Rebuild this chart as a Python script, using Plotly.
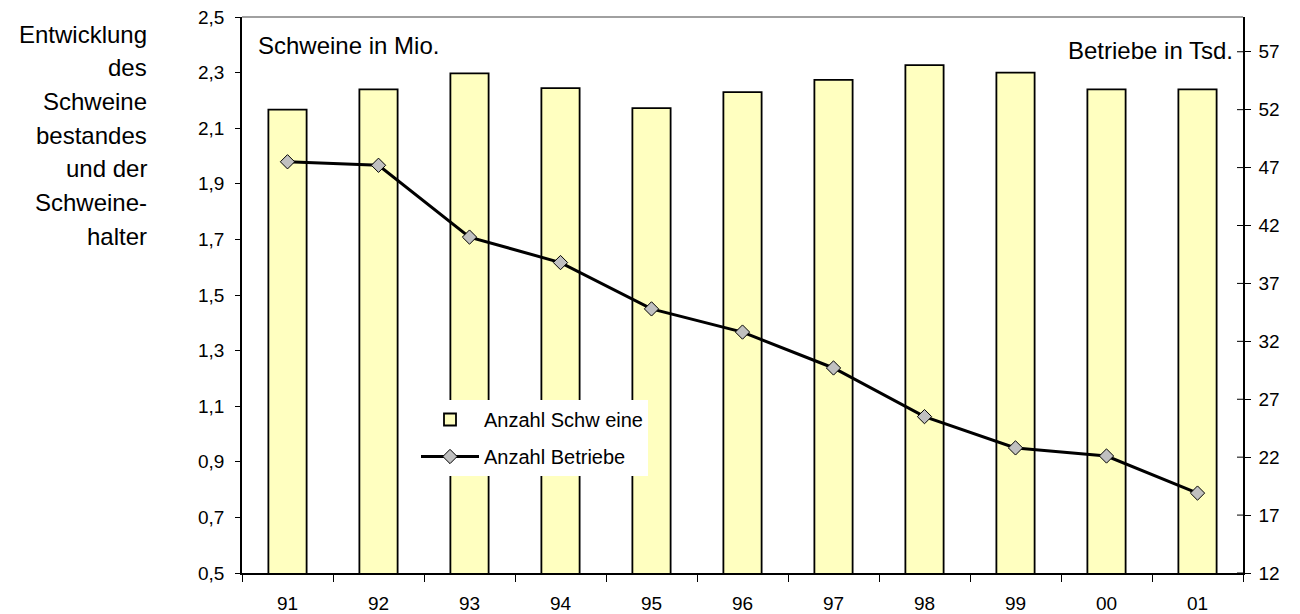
import plotly.graph_objects as go

years = ["91", "92", "93", "94", "95", "96", "97", "98", "99", "00", "01"]
schweine = [2.167, 2.24, 2.297, 2.244, 2.172, 2.230, 2.274, 2.327, 2.30, 2.24, 2.24]
betriebe = [47.5, 47.2, 41.0, 38.8, 34.8, 32.8, 29.7, 25.5, 22.8, 22.1, 18.9]

left_ticks = [0.5, 0.7, 0.9, 1.1, 1.3, 1.5, 1.7, 1.9, 2.1, 2.3, 2.5]
right_ticks = [12, 17, 22, 27, 32, 37, 42, 47, 52, 57]
side_title = ["Entwicklung", "des", "Schweine", "bestandes", "und der", "Schweine-", "halter"]

FONT = "Liberation Sans, Arial, sans-serif"
L, R, T, B = 242, 57, 17, 41
W, H = 1300, 614
PW, PH = W - L - R, H - T - B

def px_x(px):
    return (px - L) / PW

def px_y(py):
    return (H - B - py) / PH

fig = go.Figure()
fig.add_trace(go.Bar(
    x=years, y=schweine, name="Anzahl Schw eine", legendgroup="a",
    marker=dict(color="#FFFFC0", line=dict(color="black", width=1.8)),
    width=0.42, yaxis="y",
))
fig.add_trace(go.Scatter(
    x=years, y=betriebe, name="Anzahl Betriebe", yaxis="y2", legendgroup="b",
    mode="lines+markers",
    line=dict(color="black", width=3),
    marker=dict(symbol="diamond", size=11, color="#C0C0C0", line=dict(color="black", width=1)),
))

# inner half of the crossing ticks on the right axis
shapes = [dict(type="line", xref="paper", yref="paper", x0=0, x1=1, y0=1, y1=1,
               line=dict(color="#808080", width=1.5))]
for v in right_ticks:
    shapes.append(dict(type="line", xref="paper", yref="y2", x0=1 - 6 / PW, x1=1, y0=v, y1=v,
                       line=dict(color="black", width=1)))

annotations = [
    dict(text="Schweine in Mio.", xref="paper", yref="paper", x=px_x(256), y=px_y(45),
         xanchor="left", yanchor="middle", showarrow=False, font=dict(size=24)),
    dict(text="Betriebe in Tsd.", xref="paper", yref="paper", x=px_x(1235), y=px_y(51),
         xanchor="right", yanchor="middle", showarrow=False, font=dict(size=24)),
]
for i, line in enumerate(side_title):
    annotations.append(dict(text=line, xref="paper", yref="paper",
                            x=px_x(149), y=px_y(34 + i * 33.7),
                            xanchor="right", yanchor="middle", align="right",
                            showarrow=False, font=dict(size=24)))

fig.update_layout(
    width=W, height=H,
    margin=dict(l=L, r=R, t=T, b=B, pad=0),
    paper_bgcolor="white", plot_bgcolor="white",
    font=dict(family=FONT, size=19, color="black"),
    separators=",.",
    showlegend=True,
    legend=dict(x=px_x(416), y=px_y(400), xanchor="left", yanchor="top",
                bgcolor="white", borderwidth=0, font=dict(size=20),
                tracegroupgap=8, itemwidth=58, traceorder="grouped"),
    xaxis=dict(type="category", tickson="boundaries", ticks="outside", ticklen=7,
               tickcolor="black", tickwidth=1, showline=True, linecolor="black", linewidth=1.5,
               showgrid=False, range=[-0.5, 10.5], automargin=False,
               ticklabelstandoff=12),
    yaxis=dict(range=[0.5, 2.5], tickvals=left_ticks, tickformat=".1f",
               ticks="outside", ticklen=5, tickcolor="black", tickwidth=1,
               showline=True, linecolor="black", linewidth=1.5, showgrid=False,
               zeroline=False, automargin=False, ticklabelstandoff=7),
    yaxis2=dict(range=[12, 60], tickvals=right_ticks, overlaying="y", side="right",
                ticks="outside", ticklen=6, tickcolor="black", tickwidth=1,
                showline=True, linecolor="black", linewidth=1.5, showgrid=False,
                zeroline=False, automargin=False, ticklabelstandoff=4),
    shapes=shapes,
    annotations=annotations,
)

fig.write_html("out.html", config={"displayModeBar": False},
               post_script="document.body.style.margin='0';")
